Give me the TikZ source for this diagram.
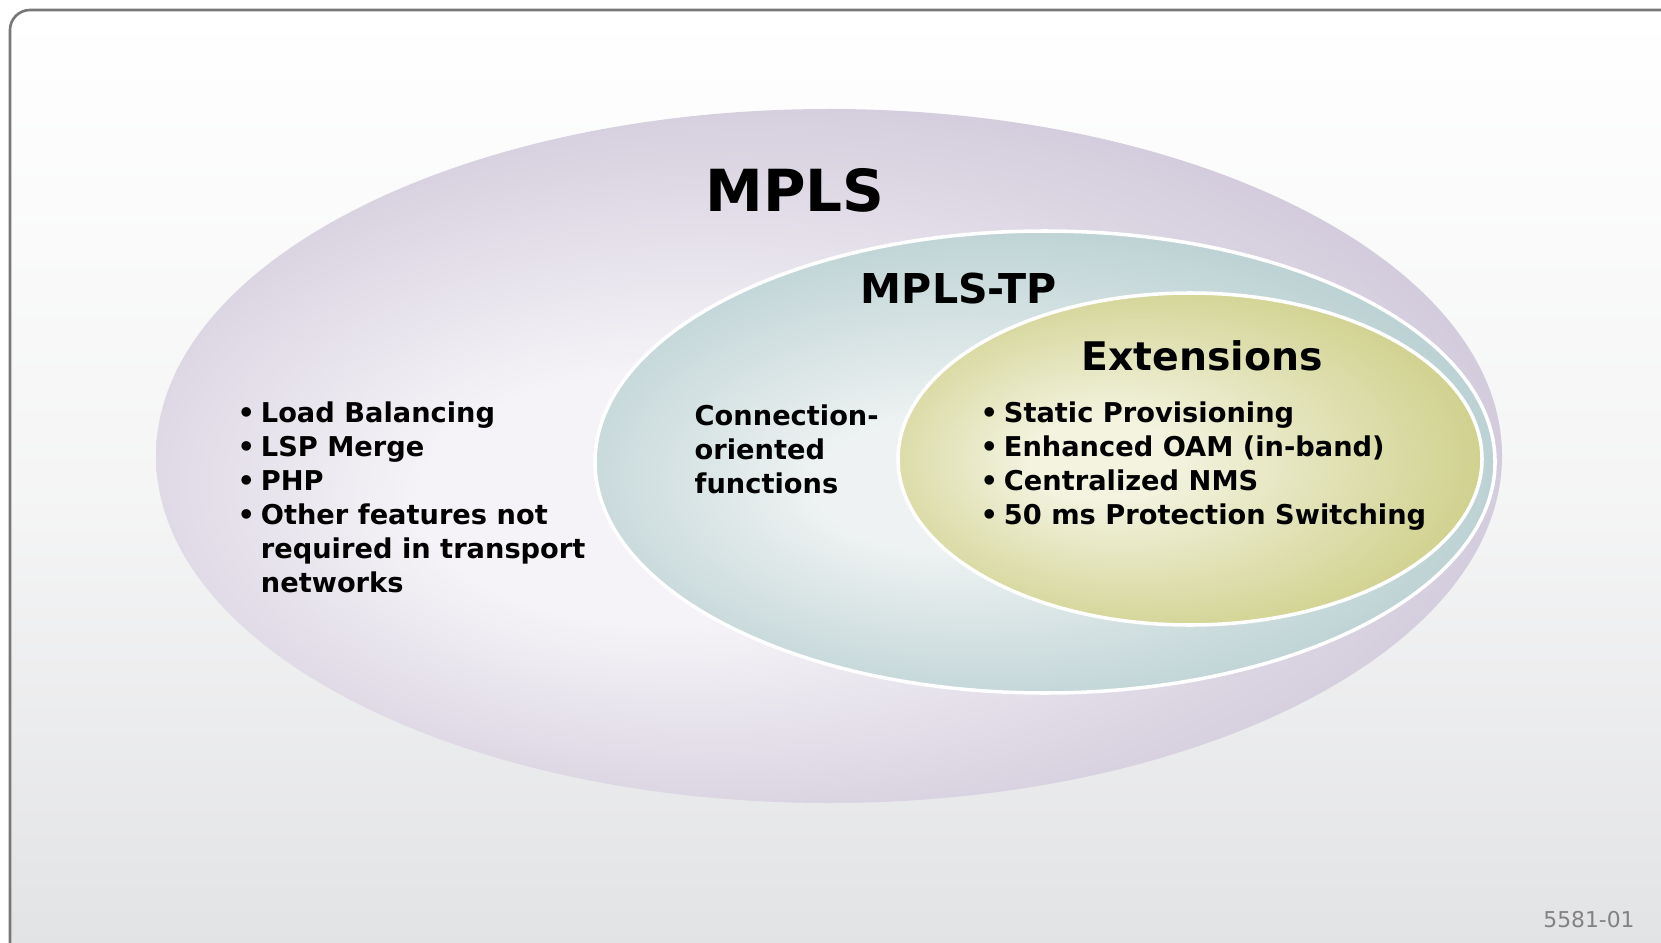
\documentclass[tikz,border=0pt]{standalone}
\usepackage{fontspec}
\setmainfont{DejaVu Sans}
\usepackage{tikz}
\usetikzlibrary{positioning}

\definecolor{framegray}{RGB}{120,120,120}
\definecolor{bgbottom}{RGB}{224,225,227}
\definecolor{mplsin}{RGB}{245,243,247}
\definecolor{mplsout}{RGB}{207,199,217}
\definecolor{tpin}{RGB}{238,242,242}
\definecolor{tpout}{RGB}{184,207,209}
\definecolor{extin}{RGB}{243,243,224}
\definecolor{extout}{RGB}{205,206,134}
\definecolor{tagray}{RGB}{130,130,130}

% soft glow, a little left of the middle
\pgfdeclareradialshading{mplsglow}{\pgfpoint{-8bp}{-4bp}}{color(0bp)=(mplsin); color(9bp)=(mplsin); color(30bp)=(mplsout); color(40bp)=(mplsout)}
\pgfdeclareradialshading{tpglow}{\pgfpoint{-7bp}{-3bp}}{color(0bp)=(tpin); color(7bp)=(tpin); color(29bp)=(tpout); color(40bp)=(tpout)}
\pgfdeclareradialshading{extglow}{\pgfpoint{-9bp}{0bp}}{color(0bp)=(extin); color(6bp)=(extin); color(30bp)=(extout); color(40bp)=(extout)}

\newcommand{\itm}{\makebox[6.6pt][l]{\textbullet}}
\newcommand{\cnt}{\hspace*{6.6pt}}

\begin{document}
\begin{tikzpicture}[x=0.01cm, y=-0.01cm,
  % common options for the titles:
  title/.style = {font=\bfseries, anchor=base, inner sep=0},
  % common options for the lists:
  list/.style = {font=\bfseries\fontsize{7.75}{9.67}\selectfont, align=left,
              anchor=north west, inner sep=0},
  % common options for the rings:
  ring/.style = {draw=white, line width=1pt}
  ]

  \useasboundingbox (0,0) rectangle (1661,943);
  \clip (0,0) rectangle (1661,943);

  \shade[top color=white, bottom color=bgbottom, middle color=white!65!bgbottom,
    draw=framegray, line width=0.75pt, rounded corners=0.2cm]
    (10,10) rectangle (1720,1000);

  \shade[shading=mplsglow] (829,456) ellipse [x radius=673, y radius=347];
  \shade[shading=tpglow, ring] (1045,462) ellipse [x radius=450, y radius=231];
  \shade[shading=extglow, ring] (1190,459) ellipse [x radius=292, y radius=166];

  \node[title, font=\bfseries\fontsize{16.5}{18}\selectfont] (mpls) at (795,212) {MPLS};
  \node[title, font=\bfseries\fontsize{11.7}{13}\selectfont] (tp) at (959,304) {MPLS-TP};
  \node[title, font=\bfseries\fontsize{11.2}{13}\selectfont] (ext) at (1202,370) {Extensions};

  \node[list] (mplslist) at (237,401) {%
    \itm Load Balancing\\
    \itm LSP Merge\\
    \itm PHP\\
    \itm Other features not\\
    \cnt required in transport\\
    \cnt networks};
  \node[list] (tplist) at (694,404) {Connection-\\oriented\\functions};
  \node[list] (extlist) at (980,401) {%
    \itm Static Provisioning\\
    \itm Enhanced OAM (in-band)\\
    \itm Centralized NMS\\
    \itm 50 ms Protection Switching};

  \node[anchor=base, inner sep=0, text=tagray, font=\fontsize{6.2}{7}\selectfont]
    (tag) at (1589,927) {5581-01};
\end{tikzpicture}
\end{document}
